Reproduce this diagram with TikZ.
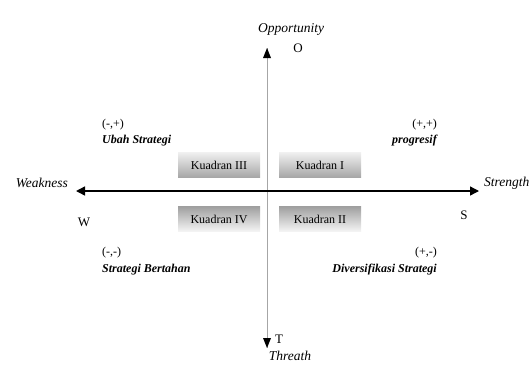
\documentclass[tikz,border=0pt]{standalone}
\usepackage{fontspec}
\setmainfont{Liberation Serif}
\usetikzlibrary{arrows.meta}
\begin{document}
\begin{tikzpicture}[x=1pt,y=-1pt,
  upbox/.style={minimum width=82pt,minimum height=25pt,inner sep=0pt,top color=gray!12,bottom color=gray!70,font=\fontsize{12}{14}\selectfont},
  downbox/.style={minimum width=82pt,minimum height=25pt,inner sep=0pt,top color=gray!75,bottom color=gray!8,font=\fontsize{12}{14}\selectfont},
  axislbl/.style={font=\itshape\fontsize{13.5}{15}\selectfont,inner sep=0pt},
  letter/.style={font=\fontsize{13}{15}\selectfont,inner sep=0pt},
  sign/.style={font=\fontsize{12}{14}\selectfont,inner sep=0pt},
  strat/.style={font=\bfseries\itshape\fontsize{12}{14}\selectfont,inner sep=0pt}]
\useasboundingbox (0,0) rectangle (530,365);
% axes endpoints
\coordinate (top) at (267,48);
\coordinate (bot) at (267,348);
\coordinate (left) at (76,191);
\coordinate (right) at (479,191);
\coordinate (c) at (267,191);
\draw[gray!70,line width=0.8pt] (c) -- (top);
\draw[gray!70,line width=0.8pt] (c) -- (bot);
\fill[black] (top) -- ++(-4,10) -- ++(8,0) -- cycle;
\fill[black] (bot) -- ++(-4,-10) -- ++(8,0) -- cycle;
\draw[line width=1.4pt,-{Triangle[length=9pt,width=9pt]}] (c) -- (right);
\draw[line width=1.4pt,-{Triangle[length=9pt,width=9pt]}] (c) -- (left);
% axis labels
\node[axislbl] (opp) at (291,29) {Opportunity};
\node[letter] (o) at (298,48) {O};
\node[axislbl,anchor=base] (thr) at (290,360) {Threath};
\node[letter] (t) at (279,339) {T};
\node[axislbl,anchor=east] (weak) at (68,183) {Weakness};
\node[axislbl,anchor=west] (str) at (484,183) {Strength};
\node[letter] (w) at (84,222) {W};
\node[letter] (s) at (464,215) {S};
% quadrant boxes
\node[upbox] (k3) at (219,165) {Kuadran III};
\node[upbox] (k1) at (320,165) {Kuadran I};
\node[downbox] (k4) at (219,219) {Kuadran IV};
\node[downbox] (k2) at (320,219) {Kuadran II};
% strategy labels
\node[sign,anchor=west] (s3) at (102,125) {(-,+)};
\node[strat,anchor=west] (u3) at (102,141) {Ubah Strategi};
\node[sign,anchor=east] (s1) at (437,125) {(+,+)};
\node[strat,anchor=east] (u1) at (437,141) {progresif};
\node[sign,anchor=west] (s4) at (102,253) {(-,-)};
\node[strat,anchor=west] (u4) at (102,270) {Strategi Bertahan};
\node[sign,anchor=east] (s2) at (437,253) {(+,-)};
\node[strat,anchor=east] (u2) at (437,270) {Diversifikasi Strategi};
\end{tikzpicture}
\end{document}
